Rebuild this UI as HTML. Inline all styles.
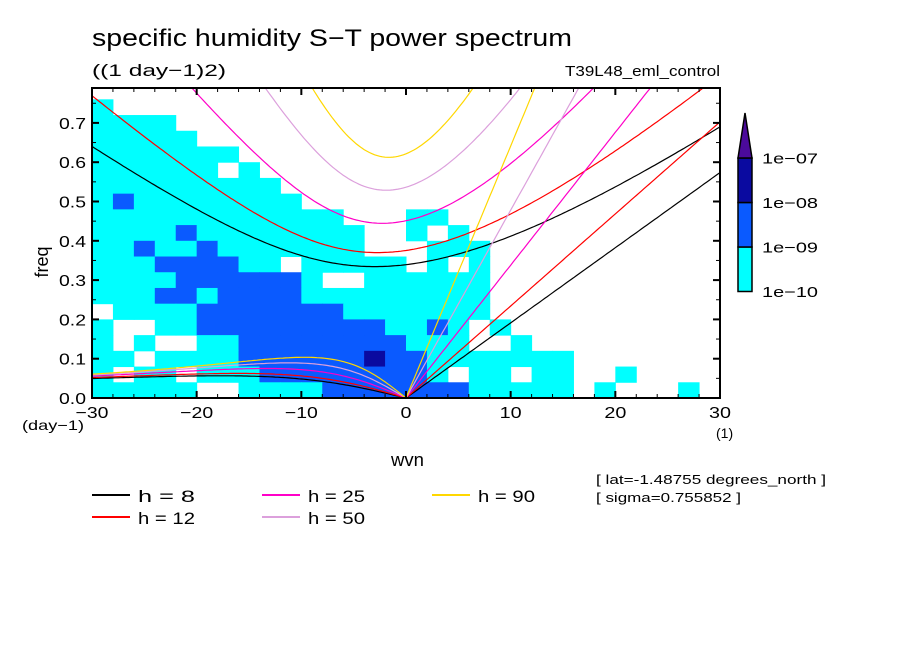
<!DOCTYPE html>
<html><head><meta charset="utf-8"><style>
body{margin:0;background:#fff;width:904px;height:654px;overflow:hidden}
svg{display:block}
text{font-family:"Liberation Sans",sans-serif;fill:#000}
</style></head><body>
<svg id="chart" width="904" height="654" viewBox="0 0 904 654">
<text x="92" y="46" font-size="24" textLength="480" lengthAdjust="spacingAndGlyphs">specific humidity S−T power spectrum</text>
<text x="92" y="76" font-size="17" textLength="134" lengthAdjust="spacingAndGlyphs">((1 day−1)2)</text>
<text x="565" y="76" font-size="15" textLength="155" lengthAdjust="spacingAndGlyphs">T39L48_eml_control</text>
<g id="shade"></g>
<g id="curves"></g>
<g id="axes"></g>
<text x="48" y="262" font-size="18" transform="rotate(-90 48 262)" text-anchor="middle">freq</text>
<text x="391" y="466" font-size="18" textLength="33" lengthAdjust="spacingAndGlyphs">wvn</text>
<text x="22" y="430" font-size="14" textLength="62" lengthAdjust="spacingAndGlyphs">(day−1)</text>
<text x="716" y="438" font-size="14">(1)</text>
<text x="596" y="484" font-size="13" textLength="230" lengthAdjust="spacingAndGlyphs">[ lat=-1.48755 degrees_north ]</text>
<text x="596" y="502" font-size="13" textLength="145" lengthAdjust="spacingAndGlyphs">[ sigma=0.755852 ]</text>
<g id="legend"></g>
<g id="cbar"></g>
</svg>
<script>
const NS='http://www.w3.org/2000/svg';
const xTicks=[-30,-20,-10,0,10,20,30];
const yTicks=[0,0.1,0.2,0.3,0.4,0.5,0.6,0.7];
const hValues=[8,12,25,50,90];
const hColors=['#000000','#ff0000','#ff00c8','#dca0dc','#ffd700'];
const levelColors=['none','#00ffff','#0a5aff','#0a0aa0'];
const cbarLabels=['1e-10','1e-09','1e-08','1e-07'];
// shading grid: rows top (freq .80) to bottom (0), cols wvn -30..30 step 2
const shadeRows=[
"000000000000000000000000000000",
"100000000000000000000000000000",
"111100000000000000000000000000",
"111110000000000000000000000000",
"111111100000000000000000000000",
"111111010000000000000000000000",
"111111111000000000000000000000",
"121111111100000000000000000000",
"111111111111000110000000000000",
"111121111111100101000000000000",
"112112111111100011100000000000",
"111222211011111010100000000000",
"111122222210011111100000000000",
"111221222211111111100000000000",
"011112222222111111100000000000",
"100112222222221121010000000000",
"101001122222222111001000000000",
"110111122222232211111110000000",
"101101112222222210110110010000",
"111110011112222222111110100010"];
const X0=92,X1=720,Y0=398,YT=88;
const xs=w=>406+(w)*(X1-X0)/60;
const ys=f=>Y0-f*393;
const el=(t,a,p)=>{const e=document.createElementNS(NS,t);for(const k in a)e.setAttribute(k,a[k]);(p||document.getElementById('chart')).appendChild(e);return e;};
const sg=document.getElementById('shade');
shadeRows.forEach((row,r)=>{
  for(let c=0;c<row.length;c++){
    const lv=+row[c]; if(!lv) continue;
    const w0=-30+2*c, fTop=Math.min(0.8-0.04*r,(Y0-YT)/393), fBot=0.8-0.04*(r+1);
    const rc=el('rect',{x:xs(w0),y:ys(fTop),width:xs(w0+2)-xs(w0)+0.5,height:ys(fBot)-ys(fTop)+0.5,fill:levelColors[lv]},sg);
    
    
  }
});
const a=6.371e6,beta=2.29e-11,g=9.81,cpd=86400/(2*Math.PI);
const cg=document.getElementById('curves');
const clip=el('clipPath',{id:'pc'});el('rect',{x:X0,y:YT,width:X1-X0,height:Y0-YT},clip);
function poly(pts,col,name){
  const p=el('polyline',{points:pts.map(q=>xs(q[0]).toFixed(1)+','+ys(q[1]).toFixed(1)).join(' '),fill:'none',stroke:col,'stroke-width':1.2,'clip-path':'url(#pc)'},cg);
  
  
}
hValues.forEach((h,i)=>{
  const c=Math.sqrt(g*h);
  const kel=[],ig=[],er=[];
  for(let w=-30;w<=30.001;w+=0.25){
    const k=w/a;
    if(w>=0) kel.push([w,k*c*cpd]);
    let om=Math.sqrt(k*k*c*c+3*beta*c);
    for(let it=0;it<30;it++){const f=om*om*om-(k*k*c*c+3*beta*c)*om-beta*c*c*k;const d=3*om*om-(k*k*c*c+3*beta*c);om-=f/d;}
    ig.push([w,om*cpd]);
    if(w<=0) er.push([w,-beta*k/(k*k+3*beta/c)*cpd]);
  }
  poly(kel,hColors[i],'kelvin-curve-h'+h);
  poly(ig,hColors[i],'ig-curve-h'+h);
  poly(er,hColors[i],'rossby-curve-h'+h);
});
const ag=document.getElementById('axes');
const fr=el('rect',{x:X0,y:YT,width:X1-X0,height:Y0-YT,fill:'none',stroke:'#000','stroke-width':2},ag);

for(let w=-30;w<=30;w+=2){const big=w%10===0;el('line',{x1:xs(w),x2:xs(w),y1:Y0,y2:Y0-(big?7:4),stroke:'#000','stroke-width':big?2:1},ag);el('line',{x1:xs(w),x2:xs(w),y1:YT,y2:YT+(big?7:4),stroke:'#000','stroke-width':big?2:1},ag);}
for(let f=0;f<=0.79;f+=0.05){const big=Math.abs(f*10-Math.round(f*10))<1e-6;el('line',{x1:X0,x2:X0+(big?7:4),y1:ys(f),y2:ys(f),stroke:'#000','stroke-width':big?2:1},ag);el('line',{x1:X1,x2:X1-(big?7:4),y1:ys(f),y2:ys(f),stroke:'#000','stroke-width':big?2:1},ag);}
xTicks.forEach(w=>{const s=(w<0?'−'+(-w):''+w);const t=el('text',{x:xs(w),y:418,'font-size':16,'text-anchor':'middle',textLength:s.length*11,lengthAdjust:'spacingAndGlyphs'},ag);t.textContent=s;});
yTicks.forEach(f=>{const t=el('text',{x:86,y:ys(f)+6,'font-size':16,'text-anchor':'end',textLength:27,lengthAdjust:'spacingAndGlyphs'},ag);t.textContent=f.toFixed(1);});
const lg=document.getElementById('legend');
const lpos=[[92,495],[92,517],[262,495],[262,517],[432,495]];
hValues.forEach((h,i)=>{
  const [x,y]=lpos[i];
  const ln=el('line',{x1:x,x2:x+38,y1:y,y2:y,stroke:hColors[i],'stroke-width':2},lg);
  
  const t=el('text',{x:x+46,y:y+7,'font-size':17,'xml:space':'preserve',textLength:57,lengthAdjust:'spacingAndGlyphs'},lg);
  t.textContent='h = '+(h<10?' ':'')+h;
  
});
const cb=document.getElementById('cbar');
const cols=['#00ffff','#0a5aff','#0a0aa0'];
cols.forEach((c,i)=>{const r=el('rect',{x:738,y:247-44.5*i,width:14,height:44.5,fill:c,stroke:'#000','stroke-width':1.5},cb);});
const tri=el('polygon',{points:'738,158 752,158 745,113',fill:'#4b0a9b',stroke:'#000','stroke-width':1.5},cb);

cbarLabels.forEach((s,i)=>{const t=el('text',{x:762,y:297-44.5*i,'font-size':15,textLength:56,lengthAdjust:'spacingAndGlyphs'},cb);t.textContent=s.replace('-','−');});
</script>
</body></html>
